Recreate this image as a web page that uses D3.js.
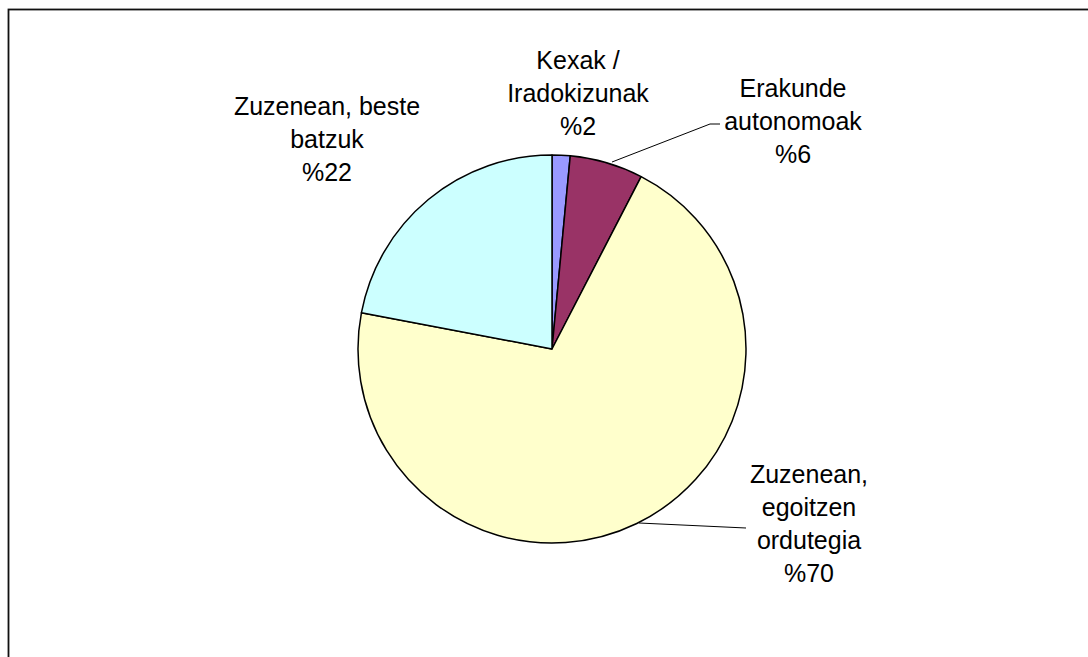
<!DOCTYPE html>
<meta charset="utf-8">
<head>
  <script src="https://d3js.org/d3.v7.min.js"></script>
<style>
body { margin: 0; background: #fff; }
text { font-family: "Liberation Sans", Arial, sans-serif; font-size: 25px; fill: #000; }
</style>
</head>
<body>
<script>

// Data
var categories = ["Kexak / Iradokizunak", "Erakunde autonomoak", "Zuzenean, egoitzen ordutegia", "Zuzenean, beste batzuk"];
var values = [1.5, 6.1, 70.4, 22.0];
var labelLines = [
  ["Kexak /", "Iradokizunak", "%2"],
  ["Erakunde", "autonomoak", "%6"],
  ["Zuzenean,", "egoitzen", "ordutegia", "%70"],
  ["Zuzenean, beste", "batzuk", "%22"]
];
var colors = ["#9999ff", "#993366", "#ffffcc", "#ccffff"];

// Layout
var width = 1088, height = 657;
var cx = 552, cy = 349, radius = 194;
var lineHeight = 33;
// label centre x and first baseline y
var labelPos = [[578, 69], [793, 97], [809, 483], [327, 115]];
// leader lines (only for some labels)
var leaders = [null, [[612, 162], [710, 124], [720, 124]], [[639, 523], [746, 528]], null];

var svg = d3.select("body").append("svg")
    .attr("width", width)
    .attr("height", height);

// chart frame (runs off the right and bottom)
svg.append("rect")
    .attr("x", 8.5)
    .attr("y", 9.5)
    .attr("width", width + 20)
    .attr("height", height + 20)
    .attr("fill", "none")
    .attr("stroke", "#111")
    .attr("stroke-width", 1.8);

var pie = d3.pie().sort(null).value(function(d) { return d; });
var arc = d3.arc().innerRadius(0).outerRadius(radius);

var g = svg.append("g")
    .attr("transform", "translate(" + cx + "," + cy + ")");

g.selectAll("path")
    .data(pie(values))
    .enter().append("path")
    .attr("d", arc)
    .attr("fill", function(d, i) { return colors[i]; })
    .attr("stroke", "#000")
    .attr("stroke-width", 1.5)
    .attr("stroke-linejoin", "round");

// leader lines
leaders.forEach(function(pts) {
  if (!pts) return;
  svg.append("path")
      .attr("d", d3.line()(pts))
      .attr("fill", "none")
      .attr("stroke", "#000")
      .attr("stroke-width", 1);
});

// labels
labelLines.forEach(function(lines, i) {
  var t = svg.append("text")
      .attr("text-anchor", "middle");
  lines.forEach(function(s, j) {
    t.append("tspan")
        .attr("x", labelPos[i][0])
        .attr("y", labelPos[i][1] + j * lineHeight)
        .text(s);
  });
});

</script>
</body>
